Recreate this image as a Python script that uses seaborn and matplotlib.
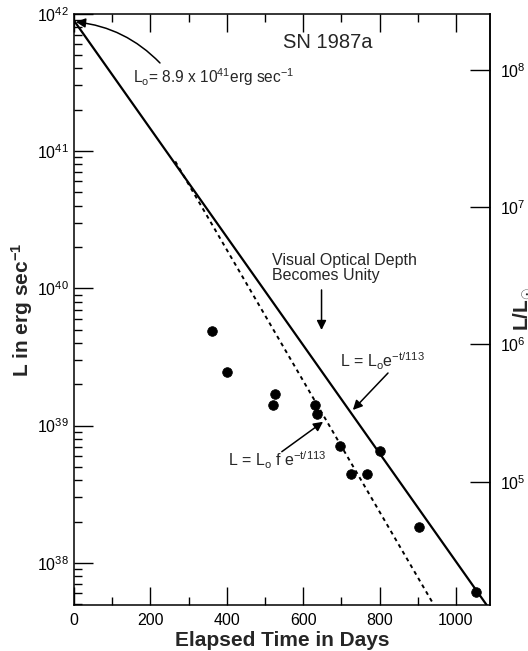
import numpy as np
import matplotlib
matplotlib.use("Agg")
import matplotlib.pyplot as plt
import matplotlib.ticker as mticker
import seaborn as sns

# observed points, days since explosion vs luminosity (erg/s)
days = [361, 400, 525, 520, 630, 637, 697, 725, 768, 802, 902, 1052]
lum = [4.86e39, 2.47e39, 1.71e39, 1.41e39, 1.41e39, 1.22e39,
       7.14e38, 4.44e38, 4.44e38, 6.53e38, 1.84e38, 6.14e37]

# solid line L = Lo e^-t/113 (end points)
exp_days = [0, 1080]
exp_lum = [8.9e41, 4.95e37]

# dotted line L = Lo f e^-t/113
f_days = [265, 942]
f_lum = [8.4e40, 4.95e37]

L_SUN = 3.9e33

sns.set_style("ticks")
plt.rcParams["font.family"] = ["Liberation Sans", "DejaVu Sans"]
plt.rcParams["mathtext.fontset"] = "custom"
plt.rcParams["mathtext.rm"] = "Liberation Sans"
plt.rcParams["mathtext.it"] = "Liberation Sans:italic"
plt.rcParams["mathtext.bf"] = "Liberation Sans:bold"
plt.rcParams["axes.linewidth"] = 1.1
plt.rcParams["axes.edgecolor"] = "black"

fig = plt.figure(figsize=(5.28, 6.51), dpi=100)
ax = fig.add_axes([0.1402, 0.0707, 0.7878, 0.9083])

sns.lineplot(x=exp_days, y=exp_lum, ax=ax, color="black", lw=1.6, estimator=None)
sns.lineplot(x=f_days, y=f_lum, ax=ax, color="black", lw=1.4, linestyle=(0, (2, 2)), estimator=None)
sns.scatterplot(x=days, y=lum, ax=ax, color="black", s=48, edgecolor="black", zorder=3)

ax.set_yscale("log")
ax.set_xlim(0, 1089)
ax.set_ylim(4.94e37, 1e42)

# x ticks
ax.xaxis.set_major_locator(mticker.MultipleLocator(200))
ax.xaxis.set_minor_locator(mticker.FixedLocator([100, 300, 500, 700, 900]))
ax.tick_params(axis="x", which="both", direction="in", top=True, bottom=True,
               labelsize=11.5, pad=6, colors="black")
ax.tick_params(axis="x", which="major", length=13, width=1)
ax.tick_params(axis="x", which="minor", length=6, width=1)

# left y ticks
ax.yaxis.set_major_locator(mticker.LogLocator(base=10, numticks=10))
ax.yaxis.set_minor_locator(mticker.LogLocator(base=10, subs=np.arange(2, 10), numticks=20))
ax.yaxis.set_minor_formatter(mticker.NullFormatter())
ax.tick_params(axis="y", which="both", direction="in", left=True, right=False,
               labelsize=11.5, colors="black")
ax.tick_params(axis="y", which="major", length=13.5, width=1)
ax.tick_params(axis="y", which="minor", length=5.5, width=1)

# right axis in solar luminosities
sec = ax.secondary_yaxis("right", functions=(lambda v: v / L_SUN, lambda v: v * L_SUN))
sec.yaxis.set_major_locator(mticker.LogLocator(base=10, numticks=10))
sec.yaxis.set_minor_locator(mticker.NullLocator())
sec.tick_params(direction="in", length=14.5, width=1, labelsize=11.5, pad=7, colors="black")
sec.set_ylabel(r"L/L$_\mathbf{\odot}$", fontsize=15, fontweight="bold")
sec.yaxis.set_label_coords(1.052, 0.5, transform=ax.transAxes)

ax.set_xlabel("Elapsed Time in Days", fontsize=15, fontweight="bold", labelpad=2)
ax.set_ylabel(r"L in erg sec$^\mathbf{-1}$", fontsize=15, fontweight="bold")
ax.yaxis.set_label_coords(-0.094, 0.5)

# annotations
ax.text(665, 10**41.787, "SN 1987a", fontsize=14.5, ha="center", va="center")

ax.text(154, 10**41.539, r"L$_\mathregular{o}$= 8.9 x 10$^\mathregular{41}$erg sec$^\mathregular{-1}$",
        fontsize=11.2, ha="left", va="center")
ax.annotate("", xy=(5, 10**41.94), xytext=(225, 10**41.641),
            arrowprops=dict(arrowstyle="-|>", color="black", lw=1.1, mutation_scale=14,
                            shrinkA=0, shrinkB=0, connectionstyle="arc3,rad=0.18"))

ax.text(518, 10**40.148, "Visual Optical Depth\nBecomes Unity", fontsize=11.5,
        ha="left", va="center", linespacing=1.0)
ax.annotate("", xy=(648, 10**39.696), xytext=(648, 10**39.988),
            arrowprops=dict(arrowstyle="-|>", color="black", lw=1.1, mutation_scale=14,
                            shrinkA=0, shrinkB=0))

ax.text(696, 10**39.465, r"L = L$_\mathregular{o}$e$^\mathregular{-t/113}$",
        fontsize=11.5, ha="left", va="center")
ax.annotate("", xy=(730, 10**39.114), xytext=(822, 10**39.383),
            arrowprops=dict(arrowstyle="-|>", color="black", lw=1.1, mutation_scale=14,
                            shrinkA=0, shrinkB=0))

ax.text(403, 10**38.749, r"L = L$_\mathregular{o}$ f e$^\mathregular{-t/113}$",
        fontsize=11.5, ha="left", va="center")
ax.annotate("", xy=(652, 10**39.028), xytext=(544, 10**38.81),
            arrowprops=dict(arrowstyle="-|>", color="black", lw=1.1, mutation_scale=14,
                            shrinkA=0, shrinkB=0))

fig.savefig("out.png", dpi=100)
